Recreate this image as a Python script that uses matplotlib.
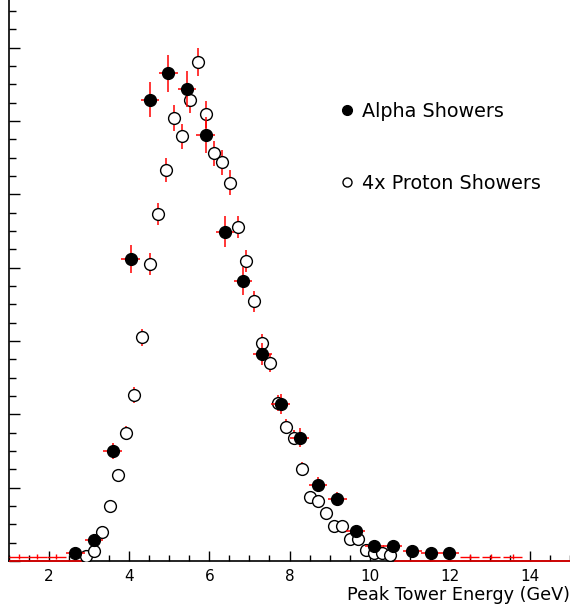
import numpy as np
import matplotlib.pyplot as plt
from matplotlib.lines import Line2D
from matplotlib.ticker import MultipleLocator

# Alpha showers (filled), bin width ~0.47 GeV
alpha_x = [2.65, 3.12, 3.585, 4.04, 4.52, 4.97, 5.44, 5.91, 6.39, 6.84, 7.32,
           7.78, 8.25, 8.71, 9.19, 9.65, 10.12, 10.58, 11.06, 11.52, 11.99]
alpha_y = [11, 28, 150, 412, 629, 665, 644, 581, 449, 382, 282,
           214, 168, 104, 85, 41, 20.5, 21, 14, 10.5, 11]
alpha_yerr = [3.5, 5.5, 11, 19, 24, 25, 24.5, 24, 21, 19, 15,
              14, 13, 10, 9, 6.5, 4.5, 4.5, 3.7, 3.2, 3.3]
alpha_xerr = 0.235

# alpha bins drawn without markers (near-empty)
alpha_low_x = [1.24, 1.71, 2.18, 12.50, 13.03, 13.57]
alpha_low_y = [6, 6, 6, 6, 6, 6]
alpha_low_yerr = [3, 3, 3, 3, 3, 3]

# 4x proton showers (open), bin width ~0.2 GeV
proton_x = [2.91, 3.12, 3.31, 3.52, 3.71, 3.91, 4.12, 4.32, 4.52, 4.72, 4.92,
            5.11, 5.31, 5.51, 5.71, 5.91, 6.11, 6.32, 6.51, 6.72, 6.92, 7.12,
            7.32, 7.52, 7.72, 7.92, 8.12, 8.31, 8.51, 8.71, 8.92, 9.11, 9.32,
            9.51, 9.71, 9.92, 10.12, 10.32, 10.52]
proton_y = [7, 14, 39, 75, 117, 174.5, 226, 305, 405, 473, 533,
            604, 579, 629, 680, 609, 556, 544, 516, 456, 409, 354,
            297, 270, 215, 183, 168, 126, 87, 82, 65, 48, 48,
            30, 30, 15, 11, 10.5, 8.6]
proton_yerr = [3, 4, 6, 8, 9, 9, 11, 12, 15, 15, 16,
               18, 17, 18, 19, 18.5, 17, 17, 17, 15, 14.5, 14,
               12, 12, 11, 10, 10, 9, 8, 8, 7, 6, 6,
               5, 5, 4, 3, 3, 3]
proton_xerr = 0.1

# empty proton bins (drawn on the baseline)
proton_empty_x = [1.11, 1.31, 1.51, 1.71, 1.91, 2.11, 2.31, 2.51, 2.71,
                  10.72, 10.92, 11.12, 11.32, 11.52, 11.72, 11.92, 12.12, 12.32,
                  12.52, 12.72, 12.92, 13.12, 13.32, 13.52, 13.72, 13.92, 14.12,
                  14.32, 14.52, 14.72, 14.92]
proton_empty_y = [0] * len(proton_empty_x)

plt.rcParams['font.family'] = ['DejaVu Sans']

fig = plt.figure(figsize=(5.70, 6.09), dpi=100)
ax = fig.add_axes([9 / 570, 48 / 609, 561 / 570, 561 / 609])

ax.errorbar(proton_empty_x, proton_empty_y, xerr=proton_xerr, fmt='none',
            ecolor='red', elinewidth=1.1, zorder=3, clip_on=False)
ax.errorbar(alpha_low_x, alpha_low_y, xerr=alpha_xerr, yerr=alpha_low_yerr,
            fmt='none', ecolor='red', elinewidth=1.0, zorder=3)

ax.errorbar(proton_x, proton_y, xerr=proton_xerr, yerr=proton_yerr, fmt='o',
            ms=8.5, mfc='white', mec='black', mew=1.0, ecolor='red',
            elinewidth=1.1, zorder=4)
ax.errorbar(alpha_x, alpha_y, xerr=alpha_xerr, yerr=alpha_yerr, fmt='o',
            ms=8.5, mfc='black', mec='black', ecolor='red',
            elinewidth=1.1, zorder=5)

ax.set_xlim(1, 15)
ax.set_ylim(0, 765)

ax.spines['top'].set_visible(False)
ax.spines['right'].set_visible(False)
ax.spines['left'].set_linewidth(1.2)
ax.spines['bottom'].set_linewidth(1.2)

ax.xaxis.set_major_locator(MultipleLocator(2))
ax.xaxis.set_minor_locator(MultipleLocator(0.5))
ax.yaxis.set_major_locator(MultipleLocator(100))
ax.yaxis.set_minor_locator(MultipleLocator(25))
ax.tick_params(axis='both', which='both', direction='in', width=1.0)
ax.tick_params(axis='x', which='major', length=7, labelsize=11, pad=6)
ax.tick_params(axis='x', which='minor', length=4)
ax.tick_params(axis='y', which='major', length=8, labelleft=False)
ax.tick_params(axis='y', which='minor', length=5)

ax.set_xlabel('Peak Tower Energy (GeV)', fontsize=12.7,
              loc='right', labelpad=1)

handles = [Line2D([], [], ls='none', marker='o', ms=7, mfc='black', mec='black'),
           Line2D([], [], ls='none', marker='o', ms=6.5, mfc='white', mec='black')]
ax.legend(handles, ['Alpha Showers', '4x Proton Showers'], loc='upper left',
          bbox_to_anchor=(0.5865, 0.818), frameon=False, numpoints=1,
          handlelength=0.95, handletextpad=0.3, borderpad=0, borderaxespad=0,
          labelspacing=2.75, prop={'size': 13.8})

plt.savefig('out.png', dpi=100)
